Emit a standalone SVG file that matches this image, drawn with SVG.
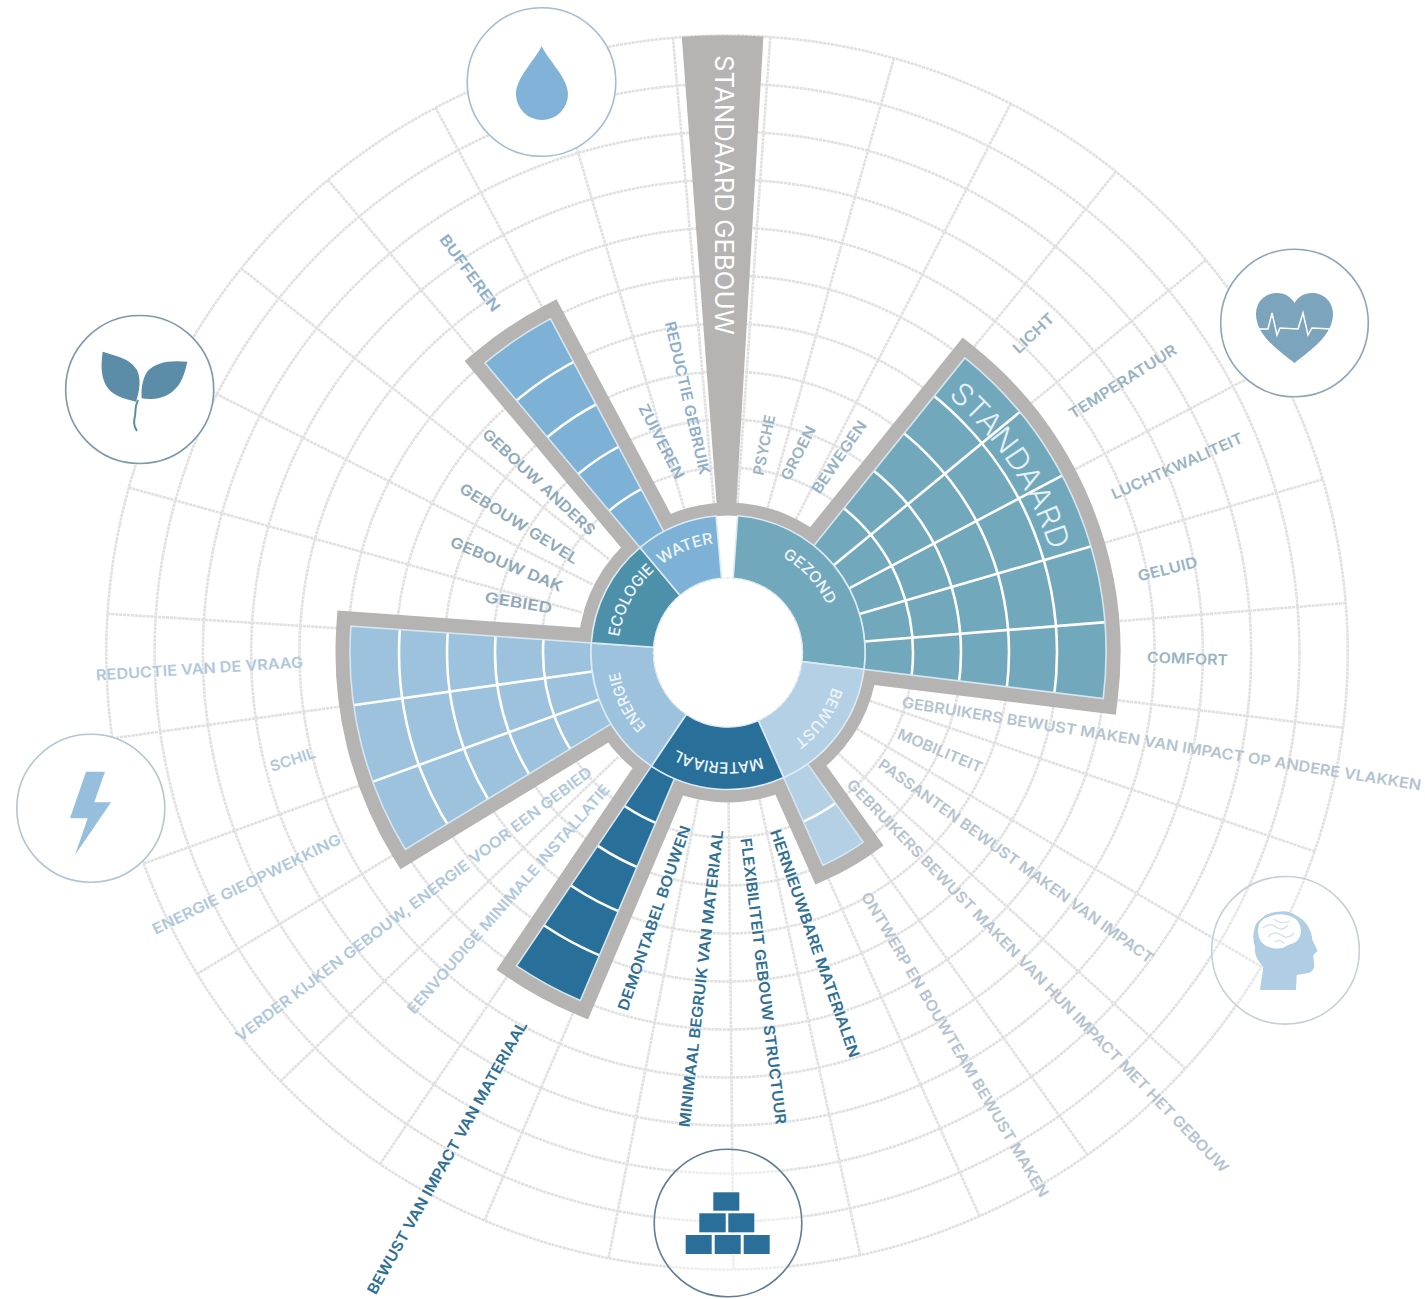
<svg xmlns="http://www.w3.org/2000/svg" xmlns:xlink="http://www.w3.org/1999/xlink" width="1425" height="1299" viewBox="0 0 1425 1299">
<style>
.g{fill:none;stroke:#e1e1e1;stroke-width:2.6;stroke-dasharray:3.2 .7}
.w{fill:#b6b3b3;stroke:#b6b3b3;stroke-width:29;stroke-linejoin:miter;stroke-miterlimit:4}
.l{fill:none;stroke:#fff;stroke-width:2.6}
.e{fill:none;stroke:#d4e6ef;stroke-width:1.6}
.h{stroke:#dcebf2;stroke-width:1.6}
.t{font-family:Inter,"Open Sans","Liberation Sans",sans-serif;font-weight:600;font-size:15px;text-anchor:middle}
.hl{font-family:Inter,"Open Sans","Liberation Sans",sans-serif;font-weight:500;font-size:15.5px;fill:#eef5f8;text-anchor:middle}
.c1{fill:#9ab3c2}.c2{fill:#b5c3cf}.c3{fill:#2f6f94}.c4{fill:#b1c8da}.c5{fill:#8fa9b8}.c6{fill:#8fafca}
.i{stroke-width:1.6}
</style>
<defs>
<path id="hubarc" d="M728 542.5A110 110 0 1 1 727.99 542.5"/>
<path id="stdarc" d="M948 395.9A338 338 0 0 1 1050.2 550.3"/>
<g id="rings">
<circle class="l" cx="728" cy="652.5" r="185"/><circle class="l" cx="728" cy="652.5" r="233"/><circle class="l" cx="728" cy="652.5" r="281"/><circle class="l" cx="728" cy="652.5" r="329"/>
</g>
<clipPath id="cgez"><path d="M813.8 545.7L964.9 357.9A378 378 0 0 1 1103.2 698.6L864 669.2A137 137 0 0 0 813.8 545.7Z"/></clipPath>
<clipPath id="cene"><path d="M611.1 723.9L405.3 849.4A378 378 0 0 1 350.9 626.1L591.3 642.9A137 137 0 0 0 611.1 723.9Z"/></clipPath>
<clipPath id="cmat"><path d="M674.5 778.6L580.3 1000.5A378 378 0 0 1 516.6 965.9L651.4 766.1A137 137 0 0 0 674.5 778.6Z"/></clipPath>
<clipPath id="cwat"><path d="M640 547.6L485 362.9A378 378 0 0 1 550.5 318.8L663.7 531.5A137 137 0 0 0 640 547.6Z"/></clipPath>
<clipPath id="cbew"><path d="M807.6 764L863.3 842.2A233 233 0 0 1 822.8 865.3L783.7 777.6A137 137 0 0 0 807.6 764Z"/></clipPath>
</defs>
<rect width="1425" height="1299" fill="#fff"/>

<g id="grid" transform="translate(727 652.5) scale(1.006 1) translate(-728 -652.5)">
<g id="grid-rings">
<circle class="g" cx="728" cy="652.5" r="185"/><circle class="g" cx="728" cy="652.5" r="233"/><circle class="g" cx="728" cy="652.5" r="281"/><circle class="g" cx="728" cy="652.5" r="329"/><circle class="g" cx="728" cy="652.5" r="377"/><circle class="g" cx="728" cy="652.5" r="425"/><circle class="g" cx="728" cy="652.5" r="473"/><circle class="g" cx="728" cy="652.5" r="521"/><circle class="g" cx="728" cy="652.5" r="569"/><circle class="g" cx="728" cy="652.5" r="617"/>
</g>
<g id="grid-spokes">
<path class="g" d="M728 502.5V35.5" transform="rotate(4 728 652.5)"/>
<path class="g" d="M728 502.5V35.5" transform="rotate(15.6 728 652.5)"/>
<path class="g" d="M728 502.5V35.5" transform="rotate(27.2 728 652.5)"/>
<path class="g" d="M728 502.5V35.5" transform="rotate(38.8 728 652.5)"/>
<path class="g" d="M728 502.5V35.5" transform="rotate(50.5 728 652.5)"/>
<path class="g" d="M728 502.5V35.5" transform="rotate(62.1 728 652.5)"/>
<path class="g" d="M728 502.5V35.5" transform="rotate(73.7 728 652.5)"/>
<path class="g" d="M728 502.5V35.5" transform="rotate(85.4 728 652.5)"/>
<path class="g" d="M728 502.5V35.5" transform="rotate(97 728 652.5)"/>
<path class="g" d="M728 502.5V35.5" transform="rotate(108.8 728 652.5)"/>
<path class="g" d="M728 502.5V35.5" transform="rotate(120.6 728 652.5)"/>
<path class="g" d="M728 502.5V35.5" transform="rotate(132.4 728 652.5)"/>
<path class="g" d="M728 502.5V35.5" transform="rotate(144.5 728 652.5)"/>
<path class="g" d="M728 502.5V35.5" transform="rotate(156 728 652.5)"/>
<path class="g" d="M728 502.5V35.5" transform="rotate(167.6 728 652.5)"/>
<path class="g" d="M728 502.5V35.5" transform="rotate(179.4 728 652.5)"/>
<path class="g" d="M728 502.5V35.5" transform="rotate(191 728 652.5)"/>
<path class="g" d="M728 502.5V35.5" transform="rotate(203 728 652.5)"/>
<path class="g" d="M728 502.5V35.5" transform="rotate(214 728 652.5)"/>
<path class="g" d="M728 502.5V35.5" transform="rotate(226 728 652.5)"/>
<path class="g" d="M728 502.5V35.5" transform="rotate(238.6 728 652.5)"/>
<path class="g" d="M728 502.5V35.5" transform="rotate(250 728 652.5)"/>
<path class="g" d="M728 502.5V35.5" transform="rotate(262 728 652.5)"/>
<path class="g" d="M728 502.5V35.5" transform="rotate(273.6 728 652.5)"/>
<path class="g" d="M728 502.5V35.5" transform="rotate(285.5 728 652.5)"/>
<path class="g" d="M728 502.5V35.5" transform="rotate(297 728 652.5)"/>
<path class="g" d="M728 502.5V35.5" transform="rotate(308.5 728 652.5)"/>
<path class="g" d="M728 502.5V35.5" transform="rotate(320 728 652.5)"/>
<path class="g" d="M728 502.5V35.5" transform="rotate(332 728 652.5)"/>
<path class="g" d="M728 502.5V35.5" transform="rotate(343.5 728 652.5)"/>
<path class="g" d="M728 502.5V35.5" transform="rotate(355 728 652.5)"/>
</g>
</g>

<g id="labels">
<g class="t c1">
<text transform="translate(764 445) rotate(-78.7)" dy=".36em" textLength="61" lengthAdjust="spacingAndGlyphs">PSYCHE</text>
<text transform="translate(798 453) rotate(-63)" dy=".36em" textLength="59" lengthAdjust="spacingAndGlyphs">GROEN</text>
<text transform="translate(839 457) rotate(-55.6)" dy=".36em" textLength="85" lengthAdjust="spacingAndGlyphs">BEWEGEN</text>
<text transform="translate(1033.5 333) rotate(-43.4)" dy=".36em" textLength="51" lengthAdjust="spacingAndGlyphs">LICHT</text>
<text transform="translate(1122.5 381.5) rotate(-32.5)" dy=".36em" textLength="124.5" lengthAdjust="spacingAndGlyphs">TEMPERATUUR</text>
<text transform="translate(1177 466) rotate(-24)" dy=".36em" textLength="142" lengthAdjust="spacingAndGlyphs">LUCHTKWALITEIT</text>
<text transform="translate(1167.5 569) rotate(-14)" dy=".36em" textLength="61" lengthAdjust="spacingAndGlyphs">GELUID</text>
<text transform="translate(1187.5 658.5) rotate(2)" dy=".36em" textLength="81" lengthAdjust="spacingAndGlyphs">COMFORT</text>
</g>
<g class="t c2">
<text transform="translate(1161.5 743.5) rotate(9.1)" dy=".36em" textLength="525.6" lengthAdjust="spacingAndGlyphs">GEBRUIKERS BEWUST MAKEN VAN IMPACT OP ANDERE VLAKKEN</text>
<text transform="translate(940 750.5) rotate(22.7)" dy=".36em" textLength="90.6" lengthAdjust="spacingAndGlyphs">MOBILITEIT</text>
<text transform="translate(1016 861) rotate(36)" dy=".36em" textLength="336" lengthAdjust="spacingAndGlyphs">PASSANTEN BEWUST MAKEN VAN IMPACT</text>
<text transform="translate(1038 976) rotate(45.9)" dy=".36em" textLength="541" lengthAdjust="spacingAndGlyphs">GEBRUIKERS BEWUST MAKEN VAN HUN IMPACT MET HET GEBOUW</text>
<text transform="translate(955 1044.5) rotate(59.3)" dy=".36em" textLength="352" lengthAdjust="spacingAndGlyphs">ONTWERP EN BOUWTEAM BEWUST MAKEN</text>
</g>
<g class="t c3">
<text transform="translate(815 943.5) rotate(70.6)" dy=".36em" textLength="240.7" lengthAdjust="spacingAndGlyphs">HERNIEUWBARE MATERIALEN</text>
<text transform="translate(763.5 981) rotate(83)" dy=".36em" textLength="288" lengthAdjust="spacingAndGlyphs">FLEXIBILITEIT GEBOUW STRUCTUUR</text>
<text transform="translate(701 978.5) rotate(-83.5)" dy=".36em" textLength="299" lengthAdjust="spacingAndGlyphs">MINIMAAL BEGRUIK VAN MATERIAAL</text>
<text transform="translate(654 918) rotate(-71)" dy=".36em" textLength="194.5" lengthAdjust="spacingAndGlyphs">DEMONTABEL BOUWEN</text>
<text transform="translate(447 1157.5) rotate(-60.7)" dy=".36em" textLength="310.7" lengthAdjust="spacingAndGlyphs">BEWUST VAN IMPACT VAN MATERIAAL</text>
</g>
<g class="t c4">
<text transform="translate(508.3 899) rotate(-48.8)" dy=".36em" textLength="299" lengthAdjust="spacingAndGlyphs">EENVOUDIGE MINIMALE INSTALLATIE</text>
<text transform="translate(413.5 904) rotate(-37.2)" dy=".36em" textLength="443" lengthAdjust="spacingAndGlyphs">VERDER KIJKEN GEBOUW, ENERGIE VOOR EEN GEBIED</text>
<text transform="translate(246.5 884) rotate(-26.2)" dy=".36em" textLength="208" lengthAdjust="spacingAndGlyphs">ENERGIE GIEOPWEKKING</text>
<text transform="translate(292.5 759.5) rotate(-18.4)" dy=".36em" textLength="47" lengthAdjust="spacingAndGlyphs">SCHIL</text>
<text transform="translate(199.5 668.5) rotate(-3.6)" dy=".36em" textLength="207.5" lengthAdjust="spacingAndGlyphs">REDUCTIE VAN DE VRAAG</text>
</g>
<g class="t c5">
<text transform="translate(518.5 602.5) rotate(9.3)" dy=".36em" textLength="68" lengthAdjust="spacingAndGlyphs">GEBIED</text>
<text transform="translate(506.5 564) rotate(22.5)" dy=".36em" textLength="120" lengthAdjust="spacingAndGlyphs">GEBOUW DAK</text>
<text transform="translate(519 523.5) rotate(32.2)" dy=".36em" textLength="137" lengthAdjust="spacingAndGlyphs">GEBOUW GEVEL</text>
<text transform="translate(539 482) rotate(43)" dy=".36em" textLength="148" lengthAdjust="spacingAndGlyphs">GEBOUW ANDERS</text>
</g>
<g class="t c6">
<text transform="translate(661.5 441.5) rotate(63)" dy=".36em" textLength="82" lengthAdjust="spacingAndGlyphs">ZUIVEREN</text>
<text transform="translate(687.5 398) rotate(77.1)" dy=".36em" textLength="157" lengthAdjust="spacingAndGlyphs">REDUCTIE GEBRUIK</text>
<text transform="translate(470 273) rotate(53.9)" dy=".36em" textLength="91.6" lengthAdjust="spacingAndGlyphs">BUFFEREN</text>
</g>
</g>

<g id="standard">
<path class="w" d="M813.8 545.7L964.9 357.9A378 378 0 0 1 1103.2 698.6L864 669.2A137 137 0 0 0 813.8 545.7Z"/>
<path class="w" d="M611.1 723.9L405.3 849.4A378 378 0 0 1 350.9 626.1L591.3 642.9A137 137 0 0 0 611.1 723.9Z"/>
<path class="w" d="M674.5 778.6L580.3 1000.5A378 378 0 0 1 516.6 965.9L651.4 766.1A137 137 0 0 0 674.5 778.6Z"/>
<path class="w" d="M640 547.6L485 362.9A378 378 0 0 1 550.5 318.8L663.7 531.5A137 137 0 0 0 640 547.6Z"/>
<path class="w" d="M807.6 764L863.3 842.2A233 233 0 0 1 822.8 865.3L783.7 777.6A137 137 0 0 0 807.6 764Z"/>
<circle cx="728" cy="652.5" r="150" fill="#b6b3b3"/>
<circle cx="728" cy="652.5" r="137" fill="#fff"/>
<path fill="#b6b3b3" d="M716.7 504.9L681.8 36.8A617 617 0 0 1 763.4 36.6L736.3 504.8Z"/>
<text transform="translate(724 195) rotate(90)" dy=".36em" text-anchor="middle" font-family="Inter,'Open Sans','Liberation Sans',sans-serif" font-weight="400" font-size="25" fill="#fff" textLength="280" lengthAdjust="spacingAndGlyphs">STANDAARD GEBOUW</text>
</g>

<g id="gezond-cells">
<path fill="#72a8bc" d="M813.8 545.7L964.9 357.9A378 378 0 0 1 1103.2 698.6L864 669.2A137 137 0 0 0 813.8 545.7Z"/>
<g clip-path="url(#cgez)">
<use href="#rings"/>
<path class="l" d="M728 515.5V272" transform="rotate(50.5 728 652.5)"/>
<path class="l" d="M728 515.5V272" transform="rotate(62.1 728 652.5)"/>
<path class="l" d="M728 515.5V272" transform="rotate(73.7 728 652.5)"/>
<path class="l" d="M728 515.5V272" transform="rotate(85.4 728 652.5)"/>
</g>
<path class="e" d="M813.8 545.7L964.9 357.9A378 378 0 0 1 1103.2 698.6L864 669.2A137 137 0 0 0 813.8 545.7Z"/>
<text font-family="Inter,'Open Sans','Liberation Sans',sans-serif" font-weight="300" font-size="30" fill="#e6f1f5" textLength="188" lengthAdjust="spacingAndGlyphs"><textPath href="#stdarc">STANDAARD</textPath></text>
</g>
<g id="energie-cells">
<path fill="#9dc2dd" d="M611.1 723.9L405.3 849.4A378 378 0 0 1 350.9 626.1L591.3 642.9A137 137 0 0 0 611.1 723.9Z"/>
<g clip-path="url(#cene)">
<use href="#rings"/>
<path class="l" d="M728 515.5V272" transform="rotate(250 728 652.5)"/>
<path class="l" d="M728 515.5V272" transform="rotate(262 728 652.5)"/>
</g>
<path class="e" d="M611.1 723.9L405.3 849.4A378 378 0 0 1 350.9 626.1L591.3 642.9A137 137 0 0 0 611.1 723.9Z"/>
</g>
<g id="materiaal-cells">
<path fill="#28709a" d="M674.5 778.6L580.3 1000.5A378 378 0 0 1 516.6 965.9L651.4 766.1A137 137 0 0 0 674.5 778.6Z"/>
<g clip-path="url(#cmat)"><use href="#rings"/></g>
<path class="e" d="M674.5 778.6L580.3 1000.5A378 378 0 0 1 516.6 965.9L651.4 766.1A137 137 0 0 0 674.5 778.6Z"/>
</g>
<g id="water-cells">
<path fill="#7db1d5" d="M640 547.6L485 362.9A378 378 0 0 1 550.5 318.8L663.7 531.5A137 137 0 0 0 640 547.6Z"/>
<g clip-path="url(#cwat)"><use href="#rings"/></g>
<path class="e" d="M640 547.6L485 362.9A378 378 0 0 1 550.5 318.8L663.7 531.5A137 137 0 0 0 640 547.6Z"/>
</g>
<g id="bewust-cells">
<path fill="#b4d0e5" d="M807.6 764L863.3 842.2A233 233 0 0 1 822.8 865.3L783.7 777.6A137 137 0 0 0 807.6 764Z"/>
<g clip-path="url(#cbew)"><circle class="l" cx="728" cy="652.5" r="185"/></g>
<path class="e" d="M807.6 764L863.3 842.2A233 233 0 0 1 822.8 865.3L783.7 777.6A137 137 0 0 0 807.6 764Z"/>
</g>

<g id="hub">
<g id="hub-gezond"><path class="h" fill="#72a8bc" d="M733.2 578.2L737.6 515.8A137 137 0 0 1 864 669.2L801.9 661.6A74.5 74.5 0 0 0 733.2 578.2Z"/><text class="hl" textLength="67" lengthAdjust="spacingAndGlyphs"><textPath href="#hubarc" startOffset="90.2">GEZOND</textPath></text></g>
<g id="hub-bewust"><path class="h" fill="#b4d0e5" d="M801.9 661.6L864 669.2A137 137 0 0 1 783.7 777.6L758.3 720.6A74.5 74.5 0 0 0 801.9 661.6Z"/><text class="hl" textLength="68" lengthAdjust="spacingAndGlyphs"><textPath href="#hubarc" startOffset="241.5">BEWUST</textPath></text></g>
<g id="hub-materiaal"><path class="h" fill="#28709a" d="M758.3 720.6L783.7 777.6A137 137 0 0 1 651.4 766.1L686.3 714.3A74.5 74.5 0 0 0 758.3 720.6Z"/><text class="hl" textLength="88" lengthAdjust="spacingAndGlyphs"><textPath href="#hubarc" startOffset="355">MATERIAAL</textPath></text></g>
<g id="hub-energie"><path class="h" fill="#9dc2dd" d="M686.3 714.3L651.4 766.1A137 137 0 0 1 591.3 642.9L653.7 647.3A74.5 74.5 0 0 0 686.3 714.3Z"/><text class="hl" textLength="62" lengthAdjust="spacingAndGlyphs"><textPath href="#hubarc" startOffset="467.9">ENERGIE</textPath></text></g>
<g id="hub-ecologie"><path class="h" fill="#4d90a9" d="M653.7 647.3L591.3 642.9A137 137 0 0 1 640 547.6L680.1 595.4A74.5 74.5 0 0 0 653.7 647.3Z"/><text class="hl" textLength="77" lengthAdjust="spacingAndGlyphs"><textPath href="#hubarc" startOffset="572.1">ECOLOGIE</textPath></text></g>
<g id="hub-water"><path class="h" fill="#7db1d5" d="M680.1 595.4L640 547.6A137 137 0 0 1 716.1 516L721.5 578.3A74.5 74.5 0 0 0 680.1 595.4Z"/><text class="hl" textLength="57" lengthAdjust="spacingAndGlyphs"><textPath href="#hubarc" startOffset="647.6">WATER</textPath></text></g>
<circle cx="728" cy="652.5" r="74.5" fill="#fff" stroke="#cfdfe9" stroke-width="1" stroke-dasharray="4 2"/>
</g>

<g id="icon-water">
<circle class="i" cx="541.5" cy="82" r="74.3" fill="#fff" stroke="#a3bccf"/>
<path fill="#80b3d7" d="M541.7 46C535 60 516 78 516 94A26 26 0 0 0 568 94C568 78 548 60 541.7 46Z"/>
</g>
<g id="icon-gezond">
<circle class="i" cx="1294.5" cy="323" r="73.8" fill="#fff" stroke="#8fa5b5"/>
<path fill="#7ca4bc" d="M1294.5 363C1278 350 1256 335 1256 314C1256 301 1266 293 1277 293C1285 293 1291 297 1294.5 303C1298 297 1304 293 1312 293C1323 293 1333 301 1333 314C1333 335 1311 350 1294.5 363Z"/>
<path fill="none" stroke="#fff" stroke-width="1.5" d="M1257 329H1268L1272 313L1277 335L1280 328L1298 329L1303 313L1308 335L1312 328L1332 329"/>
</g>
<g id="icon-ecologie">
<circle class="i" cx="139.7" cy="389.5" r="74" fill="#fff" stroke="#7d98a8"/>
<path fill="#5b8ca8" d="M102.7 351.7C100 370 102 385 113 393C120 398 129 400 136 401.7C140 390 141 378 137 370C130 358 115 356 102.7 351.7Z"/>
<path fill="#5b8ca8" d="M187.3 361.7C170 360 155 362 147 372C142 380 141 390 141.7 398.3C150 400 163 399 172 392C182 384 185 372 187.3 361.7Z"/>
<path fill="none" stroke="#5b8ca8" stroke-width="2" d="M138 400C134 408 136 412 135 416C133 423 134 427 137 431"/>
</g>
<g id="icon-energie">
<circle class="i" cx="90.8" cy="808.3" r="74" fill="#fff" stroke="#b3c4d2"/>
<path fill="#96bfdd" d="M86 771.7H105L94.3 802.3H111L75 855L87.7 818.3H70Z"/>
</g>
<g id="icon-bewust">
<circle class="i" cx="1285.5" cy="950.3" r="73.8" fill="#fff" fill-opacity=".25" stroke="#c6d0d8"/>
<path fill="#afcde3" d="M1260 990L1263.3 966.7Q1254 958 1255 946.7Q1252 938 1254.3 930Q1255 923 1261.7 918.3Q1268 912 1278.3 911.7Q1288 910 1295 915Q1304 919 1308.3 926.7Q1312 933 1312.3 940L1317.7 950.7L1313.3 955L1314.3 966.7Q1312 973 1306.7 973.3L1296.7 975L1296 990Z"/>
<path fill="#fff" d="M1258 930Q1258 920 1268 917Q1280 912 1290 916Q1301 920 1301 932Q1300 943 1288 945Q1282 950 1272 948Q1258 945 1258 930Z"/>
<path fill="none" stroke="#cfe1ee" stroke-width="1.2" d="M1263 928Q1270 922 1276 927T1288 925M1268 937Q1274 930 1281 935T1294 933M1274 919Q1280 925 1290 921M1275 942Q1281 938 1284 944"/>
</g>
<g id="icon-materiaal">
<circle class="i" cx="728" cy="1223" r="73.8" fill="#fff" fill-opacity=".45" stroke="#5f7d95"/>
<g fill="#2a6f99">
<rect x="713.3" y="1192.3" width="26" height="18.4"/>
<rect x="699.3" y="1213.3" width="26.4" height="19"/>
<rect x="728.3" y="1213.3" width="26" height="19"/>
<rect x="685.7" y="1235" width="26" height="19"/>
<rect x="714.7" y="1235" width="26" height="19"/>
<rect x="743.7" y="1235" width="26" height="19"/>
</g>
</g>
</svg>
